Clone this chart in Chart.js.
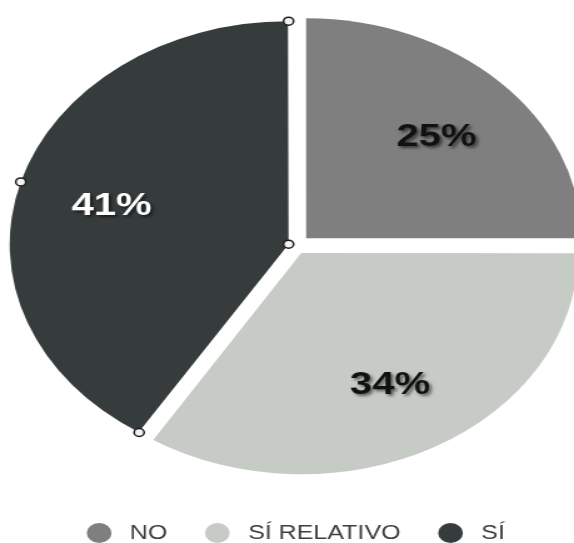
<!DOCTYPE html>
<html>
<head>
<meta charset="utf-8">
<script src="https://cdn.jsdelivr.net/npm/chart.js@4/dist/chart.umd.min.js"></script>
<style>
  html, body { margin: 0; padding: 0; background: #ffffff; overflow: hidden; }
  /* the canvas is drawn narrower and widened by CSS, giving an oval pie */
  #pie { display: block; width: 574px !important; height: 543px !important; }
</style>
</head>
<body>
<canvas id="pie" width="459" height="543"></canvas>
<script>
// Answers and their shares (percent)
const categories = ['NO', 'SÍ RELATIVO', 'SÍ'];
const shares = [25, 34, 41];

// Slice styling
const sliceColors = ['#7f7f7f', '#c7cbc6', '#363c3c'];
const labelColors = ['#111111', '#111111', '#ffffff'];
const sliceOffsets = [44, 32, 26];

// Percent labels inside each slice
const sliceLabels = {
  id: 'sliceLabels',
  afterDatasetsDraw(chart) {
    const { ctx } = chart;
    const meta = chart.getDatasetMeta(0);
    ctx.save();
    ctx.font = 'bold 32px "Liberation Sans", Arial, sans-serif';
    ctx.textAlign = 'center';
    ctx.textBaseline = 'middle';
    meta.data.forEach((arc, i) => {
      const p = arc.getProps(['x', 'y', 'startAngle', 'endAngle', 'outerRadius']);
      const mid = (p.startAngle + p.endAngle) / 2;
      const shift = (arc.options.offset || 0) / 4;
      const dist = shift + p.outerRadius * 0.67;
      ctx.shadowColor = 'rgba(0,0,0,0.55)';
      ctx.shadowBlur = 3;
      ctx.shadowOffsetX = 2;
      ctx.shadowOffsetY = 2;
      ctx.fillStyle = labelColors[i];
      ctx.fillText(shares[i] + '%', p.x + Math.cos(mid) * dist, p.y + Math.sin(mid) * dist + 3);
    });
    ctx.restore();
  }
};

// Selection handles around the last slice
const selectionHandles = {
  id: 'selectionHandles',
  afterDraw(chart) {
    const { ctx } = chart;
    const arc = chart.getDatasetMeta(0).data[shares.length - 1];
    const p = arc.getProps(['x', 'y', 'startAngle', 'endAngle', 'outerRadius']);
    const mid = (p.startAngle + p.endAngle) / 2;
    const shift = (arc.options.offset || 0) / 4;
    const fix = 1 - Math.sin(Math.min(Math.PI, p.endAngle - p.startAngle));
    const r = p.outerRadius + shift * fix;
    const cx = p.x + Math.cos(mid) * shift;
    const cy = p.y + Math.sin(mid) * shift;
    const pts = [[cx, cy]];
    [p.startAngle, mid, p.endAngle].forEach(a => pts.push([cx + Math.cos(a) * r, cy + Math.sin(a) * r]));
    ctx.save();
    ctx.fillStyle = '#f3f3f3';
    ctx.strokeStyle = '#1c1c1c';
    ctx.lineWidth = 1.5;
    pts.forEach(([x, y]) => {
      ctx.beginPath();
      ctx.arc(x, y, 4, 0, Math.PI * 2);
      ctx.fill();
      ctx.stroke();
    });
    ctx.restore();
  }
};

new Chart(document.getElementById('pie'), {
  type: 'pie',
  data: {
    labels: categories,
    datasets: [{
      data: shares,
      backgroundColor: sliceColors,
      borderWidth: 0,
      offset: sliceOffsets,
      radius: 220,
      clip: false
    }]
  },
  options: {
    responsive: false,
    animation: false,
    events: [],
    layout: { padding: { left: 15, right: 0, top: -2, bottom: 0 } },
    plugins: {
      tooltip: { enabled: false },
      legend: {
        position: 'bottom',
        maxHeight: 51,
        labels: {
          usePointStyle: true,
          pointStyle: 'circle',
          boxWidth: 18,
          boxHeight: 14,
          padding: 31,
          color: '#3d3d3d',
          font: { family: '"Liberation Sans", Arial, sans-serif', size: 20 },
          generateLabels(chart) {
            // a little extra room between each dot and its text
            return Chart.overrides.pie.plugins.legend.labels.generateLabels(chart)
              .map(item => Object.assign(item, { text: ' ' + item.text }));
          }
        }
      }
    }
  },
  plugins: [sliceLabels, selectionHandles]
});
</script>
</body>
</html>
